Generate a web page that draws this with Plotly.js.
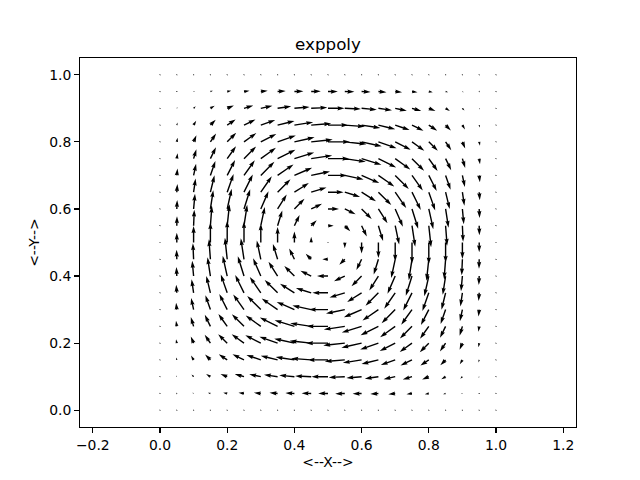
<!DOCTYPE html>
<html><head><meta charset="utf-8">
<script src="https://cdn.plot.ly/plotly-3.0.1.min.js"></script>
<style>body{margin:0;padding:0;background:#fff;} #chart{width:640px;height:480px;}</style>
</head><body><div id="chart"></div>
<script>
// grid coordinates
const xs = [0.00,0.05,0.10,0.15,0.20,0.25,0.30,0.35,0.40,0.45,0.50,0.55,0.60,0.65,0.70,0.75,0.80,0.85,0.90,0.95,1.00];
const ys = [0.00,0.05,0.10,0.15,0.20,0.25,0.30,0.35,0.40,0.45,0.50,0.55,0.60,0.65,0.70,0.75,0.80,0.85,0.90,0.95,1.00];
// horizontal components, rows by y (bottom to top), columns by x
const U = [
[0,0,0,0,0,0,0,0,0,0,0,0,0,0,0,0,0,0,0,0,0],
[0,-0.4,-1.3,-2.5,-4.0,-5.5,-6.9,-8.1,-9.0,-9.6,-9.8,-9.6,-9.0,-8.1,-6.9,-5.5,-4.0,-2.5,-1.3,-0.4,0],
[0,-0.6,-2.1,-4.3,-6.7,-9.3,-11.6,-13.6,-15.2,-16.1,-16.5,-16.1,-15.2,-13.6,-11.6,-9.3,-6.7,-4.3,-2.1,-0.6,0],
[0,-0.7,-2.6,-5.3,-8.4,-11.5,-14.4,-16.9,-18.8,-20.0,-20.4,-20.0,-18.8,-16.9,-14.4,-11.5,-8.4,-5.3,-2.6,-0.7,0],
[0,-0.8,-2.8,-5.7,-9.0,-12.3,-15.5,-18.2,-20.2,-21.5,-22.0,-21.5,-20.2,-18.2,-15.5,-12.3,-9.0,-5.7,-2.8,-0.8,0],
[0,-0.8,-2.8,-5.6,-8.8,-12.1,-15.1,-17.8,-19.8,-21.0,-21.4,-21.0,-19.8,-17.8,-15.1,-12.1,-8.8,-5.6,-2.8,-0.8,0],
[0,-0.7,-2.5,-5.0,-7.9,-10.8,-13.6,-15.9,-17.7,-18.8,-19.2,-18.8,-17.7,-15.9,-13.6,-10.8,-7.9,-5.0,-2.5,-0.7,0],
[0,-0.6,-2.0,-4.1,-6.4,-8.8,-11.0,-12.9,-14.4,-15.3,-15.6,-15.3,-14.4,-12.9,-11.0,-8.8,-6.4,-4.1,-2.0,-0.6,0],
[0,-0.4,-1.4,-2.9,-4.5,-6.2,-7.7,-9.1,-10.1,-10.8,-11.0,-10.8,-10.1,-9.1,-7.7,-6.2,-4.5,-2.9,-1.4,-0.4,0],
[0,-0.2,-0.7,-1.5,-2.3,-3.2,-4.0,-4.7,-5.2,-5.5,-5.7,-5.5,-5.2,-4.7,-4.0,-3.2,-2.3,-1.5,-0.7,-0.2,0],
[0,0,0,0,0,0,0,0,0,0,0,0,0,0,0,0,0,0,0,0,0],
[0,0.2,0.7,1.5,2.3,3.2,4.0,4.7,5.2,5.5,5.7,5.5,5.2,4.7,4.0,3.2,2.3,1.5,0.7,0.2,0],
[0,0.4,1.4,2.9,4.5,6.2,7.7,9.1,10.1,10.8,11.0,10.8,10.1,9.1,7.7,6.2,4.5,2.9,1.4,0.4,0],
[0,0.6,2.0,4.1,6.4,8.8,11.0,12.9,14.4,15.3,15.6,15.3,14.4,12.9,11.0,8.8,6.4,4.1,2.0,0.6,0],
[0,0.7,2.5,5.0,7.9,10.8,13.6,15.9,17.7,18.8,19.2,18.8,17.7,15.9,13.6,10.8,7.9,5.0,2.5,0.7,0],
[0,0.8,2.8,5.6,8.8,12.1,15.1,17.8,19.8,21.0,21.4,21.0,19.8,17.8,15.1,12.1,8.8,5.6,2.8,0.8,0],
[0,0.8,2.8,5.7,9.0,12.3,15.5,18.2,20.2,21.5,22.0,21.5,20.2,18.2,15.5,12.3,9.0,5.7,2.8,0.8,0],
[0,0.7,2.6,5.3,8.4,11.5,14.4,16.9,18.8,20.0,20.4,20.0,18.8,16.9,14.4,11.5,8.4,5.3,2.6,0.7,0],
[0,0.6,2.1,4.3,6.7,9.3,11.6,13.6,15.2,16.1,16.5,16.1,15.2,13.6,11.6,9.3,6.7,4.3,2.1,0.6,0],
[0,0.4,1.3,2.5,4.0,5.5,6.9,8.1,9.0,9.6,9.8,9.6,9.0,8.1,6.9,5.5,4.0,2.5,1.3,0.4,0],
[0,0,0,0,0,0,0,0,0,0,0,0,0,0,0,0,0,0,0,0,0]
];
// vertical components, rows by y (bottom to top), columns by x
const V = [
[0,0,0,0,0,0,0,0,0,0,0,0,0,0,0,0,0,0,0,0,0],
[0,0.4,0.6,0.7,0.8,0.8,0.7,0.6,0.4,0.2,0,-0.2,-0.4,-0.6,-0.7,-0.8,-0.8,-0.7,-0.6,-0.4,0],
[0,1.3,2.1,2.6,2.8,2.8,2.5,2.0,1.4,0.7,0,-0.7,-1.4,-2.0,-2.5,-2.8,-2.8,-2.6,-2.1,-1.3,0],
[0,2.5,4.3,5.3,5.7,5.6,5.0,4.1,2.9,1.5,0,-1.5,-2.9,-4.1,-5.0,-5.6,-5.7,-5.3,-4.3,-2.5,0],
[0,4.0,6.7,8.4,9.0,8.8,7.9,6.4,4.5,2.3,0,-2.3,-4.5,-6.4,-7.9,-8.8,-9.0,-8.4,-6.7,-4.0,0],
[0,5.5,9.3,11.5,12.3,12.1,10.8,8.8,6.2,3.2,0,-3.2,-6.2,-8.8,-10.8,-12.1,-12.3,-11.5,-9.3,-5.5,0],
[0,6.9,11.6,14.4,15.5,15.1,13.6,11.0,7.7,4.0,0,-4.0,-7.7,-11.0,-13.6,-15.1,-15.5,-14.4,-11.6,-6.9,0],
[0,8.1,13.6,16.9,18.2,17.8,15.9,12.9,9.1,4.7,0,-4.7,-9.1,-12.9,-15.9,-17.8,-18.2,-16.9,-13.6,-8.1,0],
[0,9.0,15.2,18.8,20.2,19.8,17.7,14.4,10.1,5.2,0,-5.2,-10.1,-14.4,-17.7,-19.8,-20.2,-18.8,-15.2,-9.0,0],
[0,9.6,16.1,20.0,21.5,21.0,18.8,15.3,10.8,5.5,0,-5.5,-10.8,-15.3,-18.8,-21.0,-21.5,-20.0,-16.1,-9.6,0],
[0,9.8,16.5,20.4,22.0,21.4,19.2,15.6,11.0,5.7,0,-5.7,-11.0,-15.6,-19.2,-21.4,-22.0,-20.4,-16.5,-9.8,0],
[0,9.6,16.1,20.0,21.5,21.0,18.8,15.3,10.8,5.5,0,-5.5,-10.8,-15.3,-18.8,-21.0,-21.5,-20.0,-16.1,-9.6,0],
[0,9.0,15.2,18.8,20.2,19.8,17.7,14.4,10.1,5.2,0,-5.2,-10.1,-14.4,-17.7,-19.8,-20.2,-18.8,-15.2,-9.0,0],
[0,8.1,13.6,16.9,18.2,17.8,15.9,12.9,9.1,4.7,0,-4.7,-9.1,-12.9,-15.9,-17.8,-18.2,-16.9,-13.6,-8.1,0],
[0,6.9,11.6,14.4,15.5,15.1,13.6,11.0,7.7,4.0,0,-4.0,-7.7,-11.0,-13.6,-15.1,-15.5,-14.4,-11.6,-6.9,0],
[0,5.5,9.3,11.5,12.3,12.1,10.8,8.8,6.2,3.2,0,-3.2,-6.2,-8.8,-10.8,-12.1,-12.3,-11.5,-9.3,-5.5,0],
[0,4.0,6.7,8.4,9.0,8.8,7.9,6.4,4.5,2.3,0,-2.3,-4.5,-6.4,-7.9,-8.8,-9.0,-8.4,-6.7,-4.0,0],
[0,2.5,4.3,5.3,5.7,5.6,5.0,4.1,2.9,1.5,0,-1.5,-2.9,-4.1,-5.0,-5.6,-5.7,-5.3,-4.3,-2.5,0],
[0,1.3,2.1,2.6,2.8,2.8,2.5,2.0,1.4,0.7,0,-0.7,-1.4,-2.0,-2.5,-2.8,-2.8,-2.6,-2.1,-1.3,0],
[0,0.4,0.6,0.7,0.8,0.8,0.7,0.6,0.4,0.2,0,-0.2,-0.4,-0.6,-0.7,-0.8,-0.8,-0.7,-0.6,-0.4,0],
[0,0,0,0,0,0,0,0,0,0,0,0,0,0,0,0,0,0,0,0,0]
];
const xTickVals = [-0.2,0.0,0.2,0.4,0.6,0.8,1.0,1.2];
const yTickVals = [0.0,0.2,0.4,0.6,0.8,1.0];
const titleText = 'exppoly';
const xLabel = '<--X-->';
const yLabel = '<--Y-->';

// layout geometry (matplotlib default axes box on a 640x480 figure)
const W = 640, H = 480;
const M = {l: 80, r: 64, t: 58, b: 53};
const xRange = [-0.2381, 1.2381];
const yRange = [-0.05, 1.05];
const plotW = W - M.l - M.r, plotH = H - M.t - M.b;
const kx = plotW / (xRange[1] - xRange[0]);   // px per data unit
const ky = plotH / (yRange[1] - yRange[0]);

// quiver arrow style (matplotlib defaults)
const N = xs.length * ys.length;
const sn = Math.min(25, Math.max(8, Math.sqrt(N)));
const shaftW = 0.06 * plotW / sn;      // px
const headwidth = 3, headlength = 5, headaxislength = 4.5, minshaft = 1, minlength = 1;

const px = [], py = [];
for (let j = 0; j < ys.length; j++) {
  for (let i = 0; i < xs.length; i++) {
    const u = U[j][i], v = V[j][i];
    const Lpx = Math.hypot(u, v);
    const l = Lpx / shaftW;
    const th = Math.atan2(v, u);
    let X, Y;
    const minsh = minshaft * headlength;
    if (l < minlength) {
      X = []; Y = [];
      for (let k = 0; k < 8; k++) { X.push(Math.cos(k * Math.PI / 3) * minlength * 0.5); Y.push(Math.sin(k * Math.PI / 3) * minlength * 0.5); }
    } else if (l < minsh) {
      const s = l / minsh;
      X = [0, minsh - headaxislength, minsh - headlength, minsh, minsh - headlength, minsh - headaxislength, 0, 0].map(a => a * s);
      Y = [0.5, 0.5, 0.5 * headwidth, 0, -0.5 * headwidth, -0.5, -0.5, 0.5].map(a => a * s);
    } else {
      X = [0, l - headaxislength, l - headlength, l, l - headlength, l - headaxislength, 0, 0];
      Y = [0.5, 0.5, 0.5 * headwidth, 0, -0.5 * headwidth, -0.5, -0.5, 0.5];
    }
    const c = Math.cos(th), s2 = Math.sin(th);
    for (let k = 0; k < X.length; k++) {
      const ax = (X[k] * c - Y[k] * s2) * shaftW;
      const ay = (X[k] * s2 + Y[k] * c) * shaftW;
      px.push(xs[i] + ax / kx);
      py.push(ys[j] + ay / ky);
    }
    px.push(null); py.push(null);
  }
}

const trace = {
  x: px, y: py, type: 'scatter', mode: 'lines', fill: 'toself',
  fillcolor: '#000000', line: {width: 0, color: 'rgba(0,0,0,0)'},
  hoverinfo: 'skip', showlegend: false
};

const font = {family: 'DejaVu Sans, sans-serif', size: 13.9, color: '#000'};
const axisCommon = {
  showgrid: false, zeroline: false, showline: true, mirror: true,
  linecolor: '#000', linewidth: 1.1, ticks: 'outside', ticklen: 4.9,
  tickwidth: 1.1, tickcolor: '#000', tickformat: '.1f', tickmode: 'array',
  tickfont: font, automargin: false
};
const layout = {
  width: W, height: H, margin: M,
  paper_bgcolor: '#fff', plot_bgcolor: '#fff', font: font,
  title: {text: titleText, font: {family: 'DejaVu Sans, sans-serif', size: 16.7, color: '#000'},
          x: 0.5, xref: 'paper', xanchor: 'center', y: 1, yref: 'paper', yanchor: 'bottom', pad: {b: 8}},
  xaxis: Object.assign({}, axisCommon, {range: xRange, tickvals: xTickVals,
          title: {text: xLabel, font: font, standoff: 5}}),
  yaxis: Object.assign({}, axisCommon, {range: yRange, tickvals: yTickVals,
          title: {text: yLabel, font: font, standoff: 6}}),
  showlegend: false
};
Plotly.newPlot('chart', [trace], layout, {staticPlot: true, displayModeBar: false});
</script>
</body></html>
